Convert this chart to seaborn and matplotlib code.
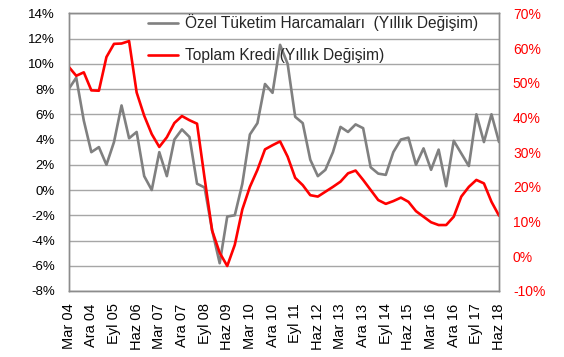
import numpy as np
import pandas as pd
import matplotlib
matplotlib.use("Agg")
import matplotlib.pyplot as plt
import seaborn as sns
from matplotlib.ticker import FuncFormatter

# ---- data (quarterly, Mar 04 .. Haz 18) ----
ozel_tuketim = [8.0, 8.9, 5.5, 3.0, 3.4, 2.0, 3.8, 6.7, 4.1, 4.6,
                1.1, 0.0, 3.0, 1.1, 4.0, 4.8, 4.2, 0.5, 0.2, -3.2,
                -5.8, -2.1, -2.0, 0.5, 4.4, 5.3, 8.4, 7.7, 11.5, 10.0,
                5.8, 5.3, 2.4, 1.1, 1.6, 3.0, 5.0, 4.6, 5.2, 4.9,
                1.8, 1.3, 1.2, 3.0, 4.0, 4.15, 2.0, 3.3, 1.6, 3.2,
                0.3, 3.9, 2.9, 1.9, 6.0, 3.8, 6.0, 3.8]
toplam_kredi = [54.6, 52.0, 53.0, 47.8, 47.7, 57.4, 61.2, 61.3, 62.0, 47.2,
                40.5, 35.2, 31.5, 34.3, 38.4, 40.4, 39.2, 38.2, 22.5, 7.4,
                1.0, -2.8, 3.3, 13.5, 20.0, 24.9, 30.8, 32.0, 33.1, 28.7,
                22.6, 20.5, 17.6, 17.2, 18.6, 20.0, 21.5, 23.9, 24.7, 22.0,
                19.1, 16.2, 15.1, 15.9, 16.9, 15.7, 13.0, 11.4, 9.8, 9.0,
                9.0, 11.4, 17.2, 20.0, 22.0, 21.0, 15.7, 11.7]
tick_labels = ["Mar 04", "Ara 04", "Eyl 05", "Haz 06", "Mar 07", "Ara 07",
               "Eyl 08", "Haz 09", "Mar 10", "Ara 10", "Eyl 11", "Haz 12",
               "Mar 13", "Ara 13", "Eyl 14", "Haz 15", "Mar 16", "Ara 16",
               "Eyl 17", "Haz 18"]
label_ozel = "Özel Tüketim Harcamaları  (Yıllık Değişim)"
label_kredi = "Toplam Kredi (Yıllık Değişim)"

df = pd.DataFrame({"t": np.arange(len(ozel_tuketim)),
                   "ozel": ozel_tuketim, "kredi": toplam_kredi})

sns.set_style("white")
plt.rcParams["font.family"] = ["Liberation Sans", "DejaVu Sans"]

fig = plt.figure(figsize=(5.64, 3.57), dpi=100)
ax = fig.add_axes([0.1218, 0.1849, 0.763, 0.7778])
ax2 = ax.twinx()

gray = "#808080"
red = "#FF0000"

sns.lineplot(data=df, x="t", y="ozel", ax=ax, color=gray, linewidth=1.9,
             label=label_ozel, legend=False)
sns.lineplot(data=df, x="t", y="kredi", ax=ax2, color=red, linewidth=1.9,
             label=label_kredi, legend=False)

n = len(ozel_tuketim)
ax.set_xlim(0, n - 1)
ax.set_ylim(-8, 14)
ax.set_yticks(np.arange(-8, 15, 2))
ax2.set_ylim(-10, 70)
ax2.set_yticks(np.arange(-10, 71, 10))
ax.yaxis.set_major_formatter(FuncFormatter(lambda v, p: f"{v:.0f}%"))
ax2.yaxis.set_major_formatter(FuncFormatter(lambda v, p: f"{v:.0f}%"))

ax.set_xticks(np.arange(0, n, 3))
ax.set_xticklabels(tick_labels, rotation=90, fontsize=10.5)
ax.set_xlabel("")
ax.set_ylabel("")
ax2.set_ylabel("")

ax.grid(axis="y", color="#a6a6a6", linewidth=1.0)
ax.grid(axis="x", visible=False)
ax2.grid(False)
for a in (ax, ax2):
    for s in a.spines.values():
        s.set_color("#8c8c8c")
        s.set_linewidth(1.0)

ax.tick_params(axis="y", length=0, pad=10, labelsize=9.5, labelcolor="black")
ax.tick_params(axis="x", length=0, pad=9, labelcolor="black")
ax2.tick_params(axis="y", length=0, pad=10, labelsize=10, labelcolor=red)

h1, l1 = ax.get_legend_handles_labels()
h2, l2 = ax2.get_legend_handles_labels()
leg = ax2.legend(h1 + h2, l1 + l2, loc="upper left",
                 bbox_to_anchor=(148 / 564, 1 - 14 / 357),
                 bbox_transform=fig.transFigure, frameon=False,
                 fontsize=11.2, handlelength=1.95, handletextpad=0.4,
                 labelspacing=1.1, borderpad=0, borderaxespad=0)

fig.savefig("out.png", dpi=100)
